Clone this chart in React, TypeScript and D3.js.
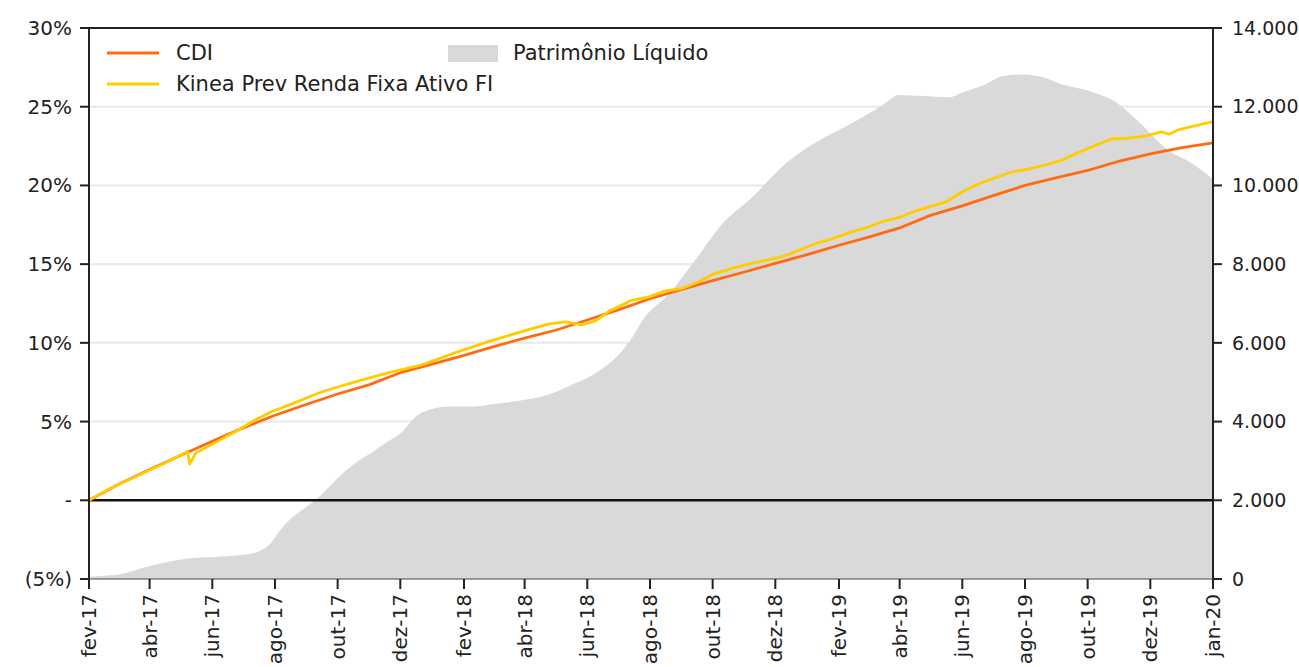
import React from "react";
import * as d3 from "d3";

// CDI, cumulative % (monthly)
const cdiDates = [
  "2017-02-01", "2017-03-01", "2017-04-01", "2017-05-01", "2017-06-01", "2017-07-01",
  "2017-08-01", "2017-09-01", "2017-10-01", "2017-11-01", "2017-12-01", "2018-01-01",
  "2018-02-01", "2018-03-01", "2018-04-01", "2018-05-01", "2018-06-01", "2018-07-01",
  "2018-08-01", "2018-09-01", "2018-10-01", "2018-11-01", "2018-12-01", "2019-01-01",
  "2019-02-01", "2019-03-01", "2019-04-01", "2019-05-01", "2019-06-01", "2019-07-01",
  "2019-08-01", "2019-09-01", "2019-10-01", "2019-11-01", "2019-12-01", "2020-01-01",
  "2020-01-31",
];
const cdiValues = [
  0, 0.98, 1.95, 2.85, 3.75, 4.6,
  5.4, 6.1, 6.75, 7.35, 8.1, 8.65,
  9.2, 9.75, 10.3, 10.8, 11.45, 12.1,
  12.8, 13.4, 13.95, 14.5, 15.05, 15.6,
  16.2, 16.7, 17.3, 18.1, 18.7, 19.35,
  20.0, 20.5, 20.95, 21.55, 22.0, 22.4,
  22.7,
];

// Kinea Prev Renda Fixa Ativo FI, cumulative %
const kineaDates = [
  "2017-02-01", "2017-02-20", "2017-03-22", "2017-04-20", "2017-05-08", "2017-05-10",
  "2017-05-16", "2017-06-02", "2017-06-26", "2017-07-12", "2017-07-28", "2017-08-14",
  "2017-09-15", "2017-10-18", "2017-11-19", "2017-12-21", "2018-01-23", "2018-02-24",
  "2018-03-13", "2018-04-08", "2018-04-25", "2018-05-11", "2018-05-27", "2018-06-09",
  "2018-06-22", "2018-07-14", "2018-07-31", "2018-08-16", "2018-09-01", "2018-09-17",
  "2018-10-03", "2018-10-19", "2018-11-05", "2018-11-22", "2018-12-07", "2018-12-24",
  "2019-01-09", "2019-01-25", "2019-02-11", "2019-02-27", "2019-03-15", "2019-03-31",
  "2019-04-13", "2019-05-16", "2019-06-01", "2019-06-17", "2019-07-04", "2019-07-19",
  "2019-08-05", "2019-08-21", "2019-09-06", "2019-09-22", "2019-10-09", "2019-10-24",
  "2019-11-10", "2019-11-27", "2019-12-12", "2019-12-19", "2019-12-29", "2020-01-14",
  "2020-01-31",
];
const kineaValues = [
  0, 0.7, 1.6, 2.5, 3.1, 2.3,
  3.0, 3.6, 4.45, 5.08, 5.61, 6.03,
  6.88, 7.52, 8.09, 8.58, 9.36, 10.06,
  10.4, 10.9, 11.2, 11.33, 11.15, 11.4,
  12.0, 12.7, 12.92, 13.3, 13.45, 13.87,
  14.4, 14.72, 15.0, 15.25, 15.46, 15.88,
  16.3, 16.6, 17.0, 17.3, 17.7, 17.95,
  18.3, 18.95, 19.6, 20.1, 20.5, 20.85,
  21.05, 21.3, 21.6, 22.1, 22.55, 22.95,
  23.0, 23.15, 23.4, 23.25, 23.55, 23.8,
  24.05,
];

// Patrimônio Líquido (right axis)
const plDates = [
  "2017-02-01", "2017-03-03", "2017-04-01", "2017-04-22", "2017-05-11", "2017-06-03",
  "2017-06-28", "2017-07-14", "2017-07-28", "2017-08-04", "2017-08-15", "2017-08-30",
  "2017-09-13", "2017-10-06", "2017-10-20", "2017-11-04", "2017-11-18", "2017-12-01",
  "2017-12-18", "2018-01-01", "2018-01-19", "2018-02-10", "2018-02-28", "2018-03-18",
  "2018-04-28", "2018-05-18", "2018-06-09", "2018-07-03", "2018-07-15", "2018-07-25",
  "2018-08-20", "2018-09-09", "2018-09-21", "2018-10-08", "2018-11-09", "2018-12-11",
  "2019-01-13", "2019-02-04", "2019-03-03", "2019-03-15", "2019-04-01", "2019-04-23",
  "2019-05-20", "2019-05-30", "2019-06-22", "2019-07-11", "2019-07-31", "2019-08-17",
  "2019-09-05", "2019-10-05", "2019-10-30", "2019-11-18", "2019-12-18", "2020-01-10",
  "2020-01-31",
];
const plValues = [
  60, 120, 330, 450, 526, 560,
  610, 680, 915, 1170, 1500, 1800,
  2090, 2690, 2980, 3230, 3480, 3700,
  4170, 4320, 4380, 4380, 4440, 4500,
  4720, 4950, 5230, 5740, 6150, 6580,
  7260, 7930, 8350, 8950, 9710, 10560,
  11150, 11450, 11840, 12040, 12300, 12270,
  12240, 12340, 12550, 12780, 12820, 12760,
  12580, 12380, 12090, 11660, 10900, 10570,
  10160,
];

const leftTicks = [-5, 0, 5, 10, 15, 20, 25, 30];
const rightTicks = [0, 2000, 4000, 6000, 8000, 10000, 12000, 14000];
const monthNames = ["jan", "fev", "mar", "abr", "mai", "jun", "jul", "ago", "set", "out", "nov", "dez"];

const parse = d3.timeParse("%Y-%m-%d");
const font = "'DejaVu Sans', sans-serif";

const App: React.FC = () => {
  const width = 1299;
  const height = 667;
  const margin = { top: 28, right: 86, bottom: 88, left: 89 };
  const innerWidth = width - margin.left - margin.right;
  const innerHeight = height - margin.top - margin.bottom;

  const start = parse("2017-02-01")!;
  const end = parse("2020-01-31")!;
  const x = d3.scaleTime().domain([start, end]).range([0, innerWidth]);
  const y = d3.scaleLinear().domain([-5, 30]).range([innerHeight, 0]);
  const y2 = d3.scaleLinear().domain([0, 14000]).range([innerHeight, 0]);

  const cdi = cdiDates.map((d, i) => ({ date: parse(d)!, value: cdiValues[i] }));
  const kinea = kineaDates.map((d, i) => ({ date: parse(d)!, value: kineaValues[i] }));
  const pl = plDates.map((d, i) => ({ date: parse(d)!, value: plValues[i] }));

  const line = d3
    .line<{ date: Date; value: number }>()
    .x((d) => x(d.date))
    .y((d) => y(d.value));
  const area = d3
    .area<{ date: Date; value: number }>()
    .x((d) => x(d.date))
    .y0(innerHeight)
    .y1((d) => y2(d.value))
    .curve(d3.curveMonotoneX);

  // every other month from fev-17, then the last day
  const xTicks = d3.timeMonth.range(start, end, 2);
  xTicks.push(end);
  const fmtMonth = (d: Date) => `${monthNames[d.getMonth()]}-${String(d.getFullYear()).slice(2)}`;
  const fmtPct = (v: number) => (v === 0 ? "-" : v < 0 ? `(${-v}%)` : `${v}%`);
  const fmtPl = (v: number) => (v === 0 ? "0" : d3.format(",")(v).replace(/,/g, "."));

  return (
    <svg
      width={width}
      height={height}
      style={{ position: "absolute", left: 0, top: 0, background: "#fff" }}
      fontFamily={font}
    >
      <g transform={`translate(${margin.left},${margin.top})`}>
        {leftTicks
          .filter((t) => t > 0 && t < 30)
          .map((t) => (
            <line key={t} x1={0} x2={innerWidth} y1={y(t)} y2={y(t)} stroke="#e8e8e8" strokeWidth={2} />
          ))}
        <path d={area(pl) ?? ""} fill="#d9d9d9" />
        <line x1={0} x2={innerWidth} y1={y(0)} y2={y(0)} stroke="#111" strokeWidth={2.5} />
        <path d={line(cdi) ?? ""} fill="none" stroke="#ff6a13" strokeWidth={2.8} strokeLinejoin="round" />
        <path d={line(kinea) ?? ""} fill="none" stroke="#ffcc00" strokeWidth={2.8} strokeLinejoin="round" />

        {/* frame */}
        <line x1={0} x2={innerWidth} y1={0} y2={0} stroke="#222" strokeWidth={2} />
        <line x1={0} x2={0} y1={0} y2={innerHeight} stroke="#222" strokeWidth={2} />
        <line x1={innerWidth} x2={innerWidth} y1={0} y2={innerHeight} stroke="#222" strokeWidth={2} />
        <line x1={0} x2={innerWidth} y1={innerHeight} y2={innerHeight} stroke="#444" strokeWidth={1} />

        {/* left axis */}
        {leftTicks.map((t) => (
          <g key={t} transform={`translate(0,${y(t)})`}>
            <line x1={-9} x2={0} stroke="#222" strokeWidth={2} />
            <text x={-17} dy="0.35em" textAnchor="end" fontSize={20} fill="#222">
              {fmtPct(t)}
            </text>
          </g>
        ))}

        {/* right axis */}
        {rightTicks.map((t) => (
          <g key={t} transform={`translate(${innerWidth},${y2(t)})`}>
            <line x1={0} x2={9} stroke="#222" strokeWidth={2} />
            <text x={19} dy="0.35em" textAnchor="start" fontSize={19} fill="#222">
              {fmtPl(t)}
            </text>
          </g>
        ))}

        {/* bottom axis */}
        {xTicks.map((t, i) => (
          <g key={i} transform={`translate(${x(t)},${innerHeight})`}>
            <line y1={0} y2={10} stroke="#222" strokeWidth={2} />
            <text
              transform="rotate(-90)"
              x={-15}
              dy="0.35em"
              textAnchor="end"
              fontSize={20}
              fill="#222"
            >
              {fmtMonth(t)}
            </text>
          </g>
        ))}

        {/* legend */}
        <g transform="translate(18,25)">
          <line x1={0} x2={52} y1={0} y2={0} stroke="#ff6a13" strokeWidth={3} />
          <text x={69} dy="0.35em" fontSize={21} fill="#222">CDI</text>
          <line x1={0} x2={52} y1={31} y2={31} stroke="#ffcc00" strokeWidth={3} />
          <text x={69} y={31} dy="0.35em" fontSize={21} fill="#222">Kinea Prev Renda Fixa Ativo FI</text>
          <rect x={341} y={-8} width={50} height={17} fill="#d9d9d9" />
          <text x={406} dy="0.35em" fontSize={21} fill="#222">Patrimônio Líquido</text>
        </g>
      </g>
    </svg>
  );
};

export default App;
